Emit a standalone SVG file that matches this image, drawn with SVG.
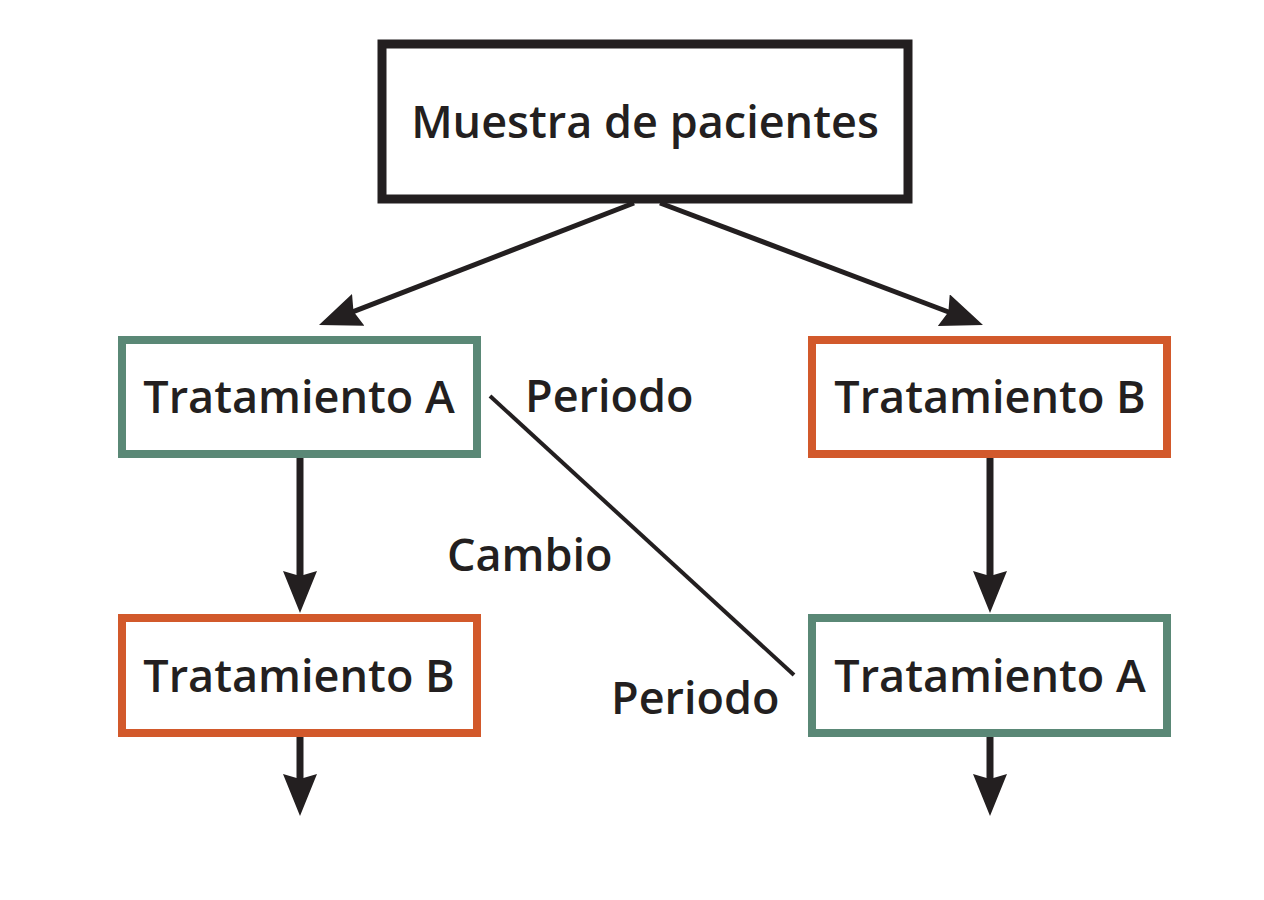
<svg xmlns="http://www.w3.org/2000/svg" width="1264" height="900" viewBox="0 0 1264 900">
<style>
.t{font-family:"Open Sans","Liberation Sans",sans-serif;font-weight:600;font-size:45px;fill:#231f20}
.box{fill:#fff;stroke-width:8}
.g{stroke:#5a8876}
.o{stroke:#d2592b}
.k{stroke:#231f20;stroke-width:9}
.c{stroke:#231f20;fill:none;stroke-linecap:butt}
</style>
<defs>
<marker id="ah" markerUnits="userSpaceOnUse" viewBox="0 0 42 34" refX="8" refY="17" markerWidth="42" markerHeight="34" orient="auto">
<path d="M0,0 L42,17 L0,34 L5,17 Z" fill="#231f20"/>
</marker>
</defs>
<rect width="1264" height="900" fill="#fff"/>
<g id="connectors">
<line class="c" x1="634" y1="203" x2="350.7" y2="312.7" stroke-width="5" marker-end="url(#ah)"/>
<line class="c" x1="660" y1="203" x2="951.2" y2="313" stroke-width="5" marker-end="url(#ah)"/>
<line class="c" x1="300" y1="458" x2="300" y2="579" stroke-width="7" marker-end="url(#ah)"/>
<line class="c" x1="990" y1="458" x2="990" y2="579" stroke-width="7" marker-end="url(#ah)"/>
<line class="c" x1="300" y1="737" x2="300" y2="782" stroke-width="7" marker-end="url(#ah)"/>
<line class="c" x1="990" y1="737" x2="990" y2="782" stroke-width="7" marker-end="url(#ah)"/>
<line class="c" x1="490" y1="396" x2="794" y2="675" stroke-width="4"/>
</g>
<g id="muestra">
<rect class="box k" x="382" y="44" width="526" height="155"/>
<text class="t" x="645" y="138" text-anchor="middle">Muestra de pacientes</text>
</g>
<g id="tratA1">
<rect class="box g" x="122" y="340" width="355" height="114"/>
<text class="t" x="299" y="413" text-anchor="middle">Tratamiento A</text>
</g>
<g id="tratB1">
<rect class="box o" x="812" y="340" width="355" height="114"/>
<text class="t" x="990" y="413" text-anchor="middle">Tratamiento B</text>
</g>
<g id="tratB2">
<rect class="box o" x="122" y="618" width="355" height="115"/>
<text class="t" x="299" y="692" text-anchor="middle">Tratamiento B</text>
</g>
<g id="tratA2">
<rect class="box g" x="812" y="618" width="355" height="115"/>
<text class="t" x="990" y="692" text-anchor="middle">Tratamiento A</text>
</g>
<g id="labels">
<text class="t" x="525" y="412">Periodo</text>
<text class="t" x="447" y="571">Cambio</text>
<text class="t" x="611" y="714">Periodo</text>
</g>
</svg>
